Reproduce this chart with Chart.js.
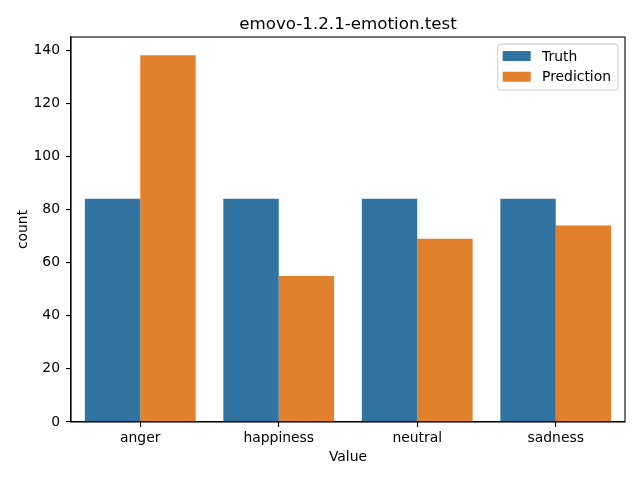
<!DOCTYPE html>
<html>
<head>
<meta charset="utf-8">
<script src="https://cdn.jsdelivr.net/npm/chart.js@4.4.0/dist/chart.umd.min.js"></script>
<style>
  html, body { margin: 0; padding: 0; background: #fff; }
  #wrap { width: 640px; height: 480px; }
</style>
</head>
<body>
<div id="wrap"><canvas id="chart-area" width="640" height="480"></canvas></div>
<script>
var categories = ["anger", "happiness", "neutral", "sadness"];
var truthCounts = [84, 84, 84, 84];
var predictionCounts = [138, 55, 69, 74];
var yTicks = [0, 20, 40, 60, 80, 100, 120, 140];

var FONT = "'DejaVu Sans', sans-serif";

// matplotlib style box round the axes
var frameBox = {
    id: 'frameBox',
    afterDatasetsDraw: function (chart) {
        var a = chart.chartArea;
        var ctx = chart.ctx;
        ctx.save();
        ctx.strokeStyle = '#000';
        ctx.lineWidth = 1.1;
        ctx.strokeRect(a.left, a.top, a.right - a.left, a.bottom - a.top);
        ctx.restore();
    }
};

// legend in the upper right corner, inside the axes
var boxLegend = {
    id: 'boxLegend',
    afterDraw: function (chart) {
        var a = chart.chartArea;
        var ctx = chart.ctx;
        var sets = chart.data.datasets;
        ctx.save();
        ctx.font = '13.9px ' + FONT;
        var textW = 0;
        sets.forEach(function (ds) {
            textW = Math.max(textW, ctx.measureText(ds.label).width);
        });
        var w = 5 + 28 + 11.3 + textW + 7;
        var h = 46;
        var right = a.right - 7;
        var left = right - w;
        var top = a.top + 7;
        ctx.beginPath();
        ctx.roundRect(left, top, w, h, 3);
        ctx.fillStyle = 'rgba(255,255,255,0.8)';
        ctx.fill();
        ctx.strokeStyle = '#cccccc';
        ctx.lineWidth = 1;
        ctx.stroke();
        sets.forEach(function (ds, i) {
            var y = top + 7 + i * 20.7;
            ctx.fillStyle = ds.backgroundColor;
            ctx.fillRect(left + 5, y, 28, 10);
            ctx.fillStyle = '#000';
            ctx.textBaseline = 'middle';
            ctx.textAlign = 'left';
            ctx.fillText(ds.label, left + 5 + 28 + 11.3, y + 6);
        });
        ctx.restore();
    }
};

var config = {
    type: 'bar',
    data: {
        labels: categories,
        datasets: [{
            label: 'Truth',
            data: truthCounts,
            backgroundColor: '#3274a1',
            categoryPercentage: 0.8,
            barPercentage: 1.0
        }, {
            label: 'Prediction',
            data: predictionCounts,
            backgroundColor: '#e1812c',
            categoryPercentage: 0.8,
            barPercentage: 1.0
        }]
    },
    options: {
        responsive: false,
        animation: false,
        layout: { padding: { left: 0, right: 15, top: 0, bottom: 0 } },
        plugins: {
            legend: { display: false },
            tooltip: { enabled: false },
            title: {
                display: true,
                fullSize: false,
                text: 'emovo-1.2.1-emotion.test',
                color: '#000',
                font: { family: FONT, size: 16.7, weight: 'normal' },
                padding: { top: 15, bottom: 2 }
            }
        },
        scales: {
            x: {
                offset: true,
                grid: { display: true, offset: false, drawOnChartArea: false, drawTicks: true, tickLength: 5, color: '#000', lineWidth: 1.1 },
                border: { display: true, color: '#000', width: 1.1 },
                ticks: { color: '#000', font: { family: FONT, size: 13.9 }, padding: 3 },
                title: {
                    display: true,
                    text: 'Value',
                    color: '#000',
                    font: { family: FONT, size: 13.9 },
                    padding: { top: 0, bottom: 14 }
                },
                afterFit: function (scale) { scale.height = 58; }
            },
            y: {
                min: 0,
                max: 144.9,
                afterBuildTicks: function (scale) {
                    scale.ticks = yTicks.map(function (v) { return { value: v }; });
                },
                grid: { display: true, drawOnChartArea: false, drawTicks: true, tickLength: 5, color: '#000', lineWidth: 1.1 },
                border: { display: true, color: '#000', width: 1.1 },
                ticks: { color: '#000', font: { family: FONT, size: 13.9 }, padding: 6 },
                title: {
                    display: true,
                    text: 'count',
                    color: '#000',
                    font: { family: FONT, size: 13.9 },
                    padding: { top: 15, bottom: 0 }
                },
                afterFit: function (scale) { scale.width = 71; }
            }
        }
    },
    plugins: [frameBox, boxLegend]
};

var ctx = document.getElementById("chart-area").getContext("2d");
window.myBar = new Chart(ctx, config);
</script>
</body>
</html>
